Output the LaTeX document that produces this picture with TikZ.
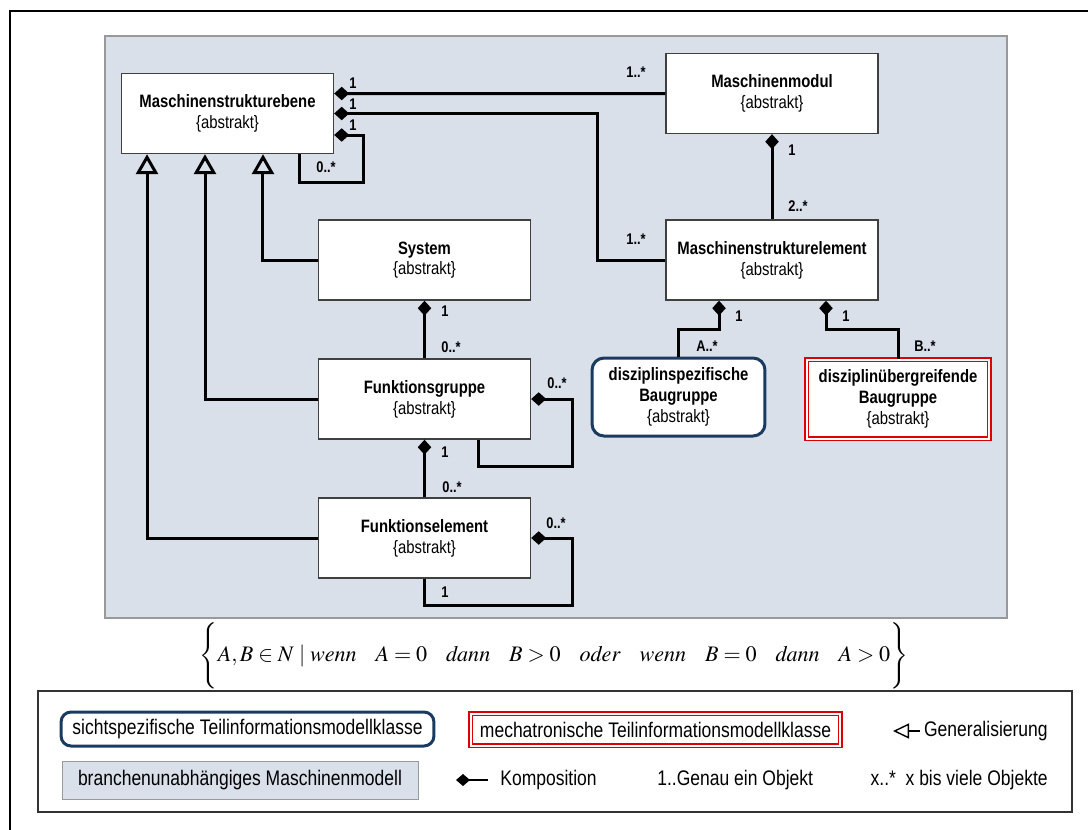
\documentclass[tikz,border=0pt]{standalone}
\usepackage{mathptmx}
\usepackage[no-math]{fontspec}
\setmainfont{Liberation Sans}[FakeStretch=0.83]
\usetikzlibrary{arrows.meta, positioning, calc}

\definecolor{panelgray}{RGB}{218, 224, 234}
\definecolor{viewblue}{RGB}{27, 58, 95}
\definecolor{mechred}{RGB}{220, 0, 0}

\newcommand{\clsfont}{\fontsize{10.2}{11.8}\selectfont}
\newcommand{\legfont}{\fontsize{12}{14}\selectfont}
\newcommand{\multfont}{\fontsize{8.8}{10}\selectfont\bfseries}
\newcommand{\gap}{\hspace{0.85em}}

\begin{document}
\begin{tikzpicture}[
  x=0.02cm, y=-0.02cm,
  cls/.style={draw=black!75, line width=0.8pt, fill=white, minimum width=4.24cm, minimum height=1.6cm, inner sep=0pt, align=center, font=\clsfont},
  comp/.style={{Diamond[length=0.3cm, width=0.27cm]}-, line width=0.06cm},
  gen/.style={-{Triangle[open, length=0.4cm, width=0.44cm]}, line width=0.06cm},
  mult/.style={inner sep=0pt, font=\multfont},
  leg/.style={inner sep=0pt, font=\legfont}
]
  \useasboundingbox (0,0) rectangle (1088,829);
  \draw[line width=0.04cm] (10,11) rectangle (1110,850);

  % Machine model panel
  \draw[draw=black!40, fill=panelgray, line width=0.6pt] (105,36) rectangle (1007,618);

  % Classes
  \node[cls] (ebene) at (227.5,113.5) {\textbf{Maschinenstrukturebene}\\\{abstrakt\}};
  \node[cls] (modul) at (772,93.5) {\textbf{Maschinenmodul}\\\{abstrakt\}};
  \node[cls] (element) at (772,260) {\textbf{Maschinenstrukturelement}\\\{abstrakt\}};
  \node[cls] (system) at (424.5,260) {\textbf{System}\\\{abstrakt\}};
  \node[cls] (fgruppe) at (424.5,399) {\textbf{Funktionsgruppe}\\\{abstrakt\}};
  \node[cls] (felement) at (424.5,538) {\textbf{Funktionselement}\\\{abstrakt\}};
  \node[cls, draw=viewblue, line width=0.06cm, rounded corners=0.24cm, minimum width=3.46cm, minimum height=1.56cm] (spezifisch) at (678.5,397)
    {\textbf{disziplinspezifische}\\\textbf{Baugruppe}\\\{abstrakt\}};
  \node[cls, draw=mechred, double=white, double distance=0.04cm, line width=0.025cm, minimum width=3.66cm, minimum height=1.58cm] (uebergreifend) at (898,399)
    {\textbf{disziplinübergreifende}\\\textbf{Baugruppe}\\\{abstrakt\}};

  % Compositions
  \draw[comp] ([yshift=0.4cm]ebene.east) -- (modul.west);
  \draw[comp] (ebene.east) -- ++(263,0) |- (element.west);
  \draw[comp] ([yshift=-0.43cm]ebene.east) -| ++(29,47) -| ([xshift=-0.7cm]ebene.south east);
  \draw[comp] (modul.south) -- (element.north);
  \draw[comp] ([xshift=-1.06cm]element.south) -- ++(0,29) -| (spezifisch.north);
  \draw[comp] ([xshift=1.08cm]element.south) -- ++(0,29) -| (uebergreifend.north);
  \draw[comp] (system.south) -- (fgruppe.north);
  \draw[comp] (fgruppe.south) -- (felement.north);
  \draw[comp] (fgruppe.east) -| ++(41,67) -| ([xshift=-1.06cm]fgruppe.south east);
  \draw[comp] (felement.east) -| ++(41,67) -| (felement.south);

  % Generalisations
  \draw[gen] (system.west) -| ([xshift=0.71cm]ebene.south);
  \draw[gen] (fgruppe.west) -| ([xshift=-0.45cm]ebene.south);
  \draw[gen] (felement.west) -| ([xshift=-1.61cm]ebene.south);

  % Multiplicities
  \node[mult] (m-eb1) at (353,83) {1};
  \node[mult] (m-eb2) at (353,104) {1};
  \node[mult] (m-eb3) at (353,125) {1};
  \node[mult] (m-ebself) at (326,167) {0..*};
  \node[mult] (m-mod) at (636,72) {1..*};
  \node[mult] (m-el) at (636,239) {1..*};
  \node[mult] (m-mod1) at (792,150) {1};
  \node[mult] (m-el2) at (798,206) {2..*};
  \node[mult] (m-sys1) at (445,311) {1};
  \node[mult] (m-fg0) at (451,347) {0..*};
  \node[mult] (m-fgself) at (557,383) {0..*};
  \node[mult] (m-fg1) at (445,452) {1};
  \node[mult] (m-fe0) at (452,487) {0..*};
  \node[mult] (m-feself) at (556,523) {0..*};
  \node[mult] (m-fe1) at (445,592) {1};
  \node[mult] (m-spz1) at (739,316) {1};
  \node[mult] (m-spzA) at (707,346) {A..*};
  \node[mult] (m-ueb1) at (846,316) {1};
  \node[mult] (m-uebB) at (925,346) {B..*};

  % Constraint on A and B
  \node[inner sep=0pt, font=\fontsize{12.6}{15}\selectfont] (bedingung) at (554,657)
    {$\left\{ A,B\in N \mid \mathit{wenn}\gap A=0\gap \mathit{dann}\gap B>0\gap \mathit{oder}\gap \mathit{wenn}\gap B=0\gap \mathit{dann}\gap A>0 \vrule height 17pt depth 17pt width 0pt \right\}$};

  % Legend
  \draw[line width=0.6pt, draw=black!80] (38,691) rectangle (1072,812);
  \node[leg, draw=viewblue, line width=0.06cm, rounded corners=0.2cm, minimum width=7.46cm, minimum height=0.68cm] (legview) at (247.5,729)
    {sichtspezifische Teilinformationsmodellklasse};
  \node[leg, draw=mechred, double=white, double distance=0.04cm, line width=0.025cm, minimum width=7.4cm, minimum height=0.64cm] (legmech) at (655.5,729.5)
    {mechatronische Teilinformationsmodellklasse};
  \node[leg, anchor=east] (leggen) at (1048,731) {Generalisierung};
  \coordinate (gentip) at (893,731);
  \draw[{Triangle[open, length=0.32cm, width=0.3cm]}-, line width=0.8pt] (gentip) -- ([xshift=-0.08cm]leggen.west);

  \node[leg, draw=black!40, fill=panelgray, minimum width=7.12cm, minimum height=0.76cm] (legpanel) at (240,780)
    {branchenunabhängiges Maschinenmodell};
  \coordinate (kompa) at (456,780);
  \coordinate (kompb) at (488,780);
  \draw[{Diamond[length=0.28cm, width=0.24cm]}-, line width=0.8pt] (kompa) -- (kompb);
  \node[leg, anchor=west] (legkomp) at (500,780) {Komposition};
  \node[leg, anchor=west] (legone) at (657,780) {1..Genau ein Objekt};
  \node[leg, anchor=east] (legmany) at (1048,780) {x..*~~x bis viele Objekte};
\end{tikzpicture}
\end{document}
